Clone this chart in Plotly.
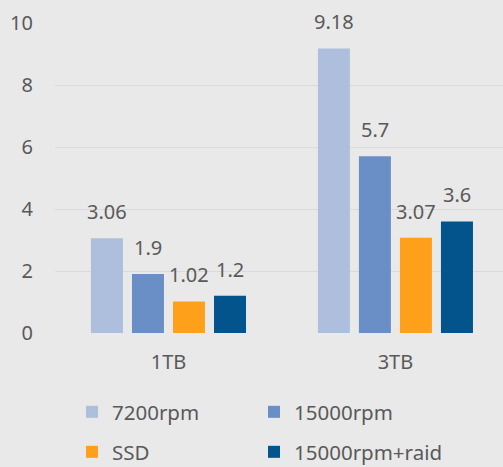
import plotly.graph_objects as go

categories = ["1TB", "3TB"]
series_names = ["7200rpm", "15000rpm", "SSD", "15000rpm+raid"]
values_7200 = [3.06, 9.18]
values_15000 = [1.9, 5.7]
values_ssd = [1.02, 3.07]
values_raid = [1.2, 3.6]
y_ticks = [0, 2, 4, 6, 8, 10]

colors = ["#adbfdc", "#6a8fc6", "#ffa01a", "#03548c"]
all_values = [values_7200, values_15000, values_ssd, values_raid]
legend_ids = ["legend", "legend2", "legend3", "legend4"]

FONT = "Noto Sans"
TXT = "#595959"
FS = 20

fig = go.Figure()
for name, vals, col, lg in zip(series_names, all_values, colors, legend_ids):
    fig.add_trace(go.Bar(
        x=categories, y=vals, name=name, marker=dict(color=col, line=dict(width=0)),
        legend=lg, showlegend=True,
    ))

# value labels above bars (offset per series within group)
unit_px = 227
group_w = unit_px * (1 - 0.277)
slot = group_w / 4
for i, vals in enumerate(all_values):
    off = (i - 1.5) * slot
    for c, v in zip(categories, vals):
        fig.add_annotation(x=c, y=v, text=f"{v:g}", showarrow=False,
                           xshift=off, yshift=11, yanchor="bottom",
                           font=dict(family=FONT, size=FS, color=TXT))

PW = 448.0
PH = 310.0
leg_common = dict(orientation="h", xref="paper", yref="paper",
                  xanchor="left", yanchor="middle",
                  bgcolor="rgba(0,0,0,0)", font=dict(family=FONT, size=20.5, color=TXT))
# legend grid: 2 columns x 2 rows (pixel positions of legend boxes)
col_px = [72, 254]
row_px = [412, 452]
leg_layout = {}
for k, lg in enumerate(legend_ids):
    cx = col_px[k % 2]
    ry = row_px[k // 2]
    leg_layout[lg] = dict(x=(cx - 55) / PW, y=-(ry - 333) / PH, **leg_common)

fig.update_layout(
    width=503, height=467,
    showlegend=True,
    paper_bgcolor="#e9e9e9", plot_bgcolor="#e9e9e9",
    margin=dict(l=55, r=0, t=23, b=134, autoexpand=False),
    barmode="group", bargap=0.277, bargroupgap=0.22,
    font=dict(family=FONT, size=FS, color=TXT),
    **leg_layout,
)
fig.update_yaxes(range=[0, 10], tickvals=y_ticks, showgrid=True, gridcolor="#dadada",
                 gridwidth=1, zeroline=False, showline=False, ticks="",
                 ticklabelstandoff=21, tickfont=dict(family=FONT, size=FS, color=TXT))
fig.update_xaxes(range=[-0.5, 1.474], showgrid=False, showline=False, ticks="",
                 ticklabelstandoff=15, tickfont=dict(family=FONT, size=FS, color=TXT))

fig.write_html("out.html", config={"displayModeBar": False},
               post_script="document.body.style.margin='0';document.body.style.background='#e9e9e9';")
